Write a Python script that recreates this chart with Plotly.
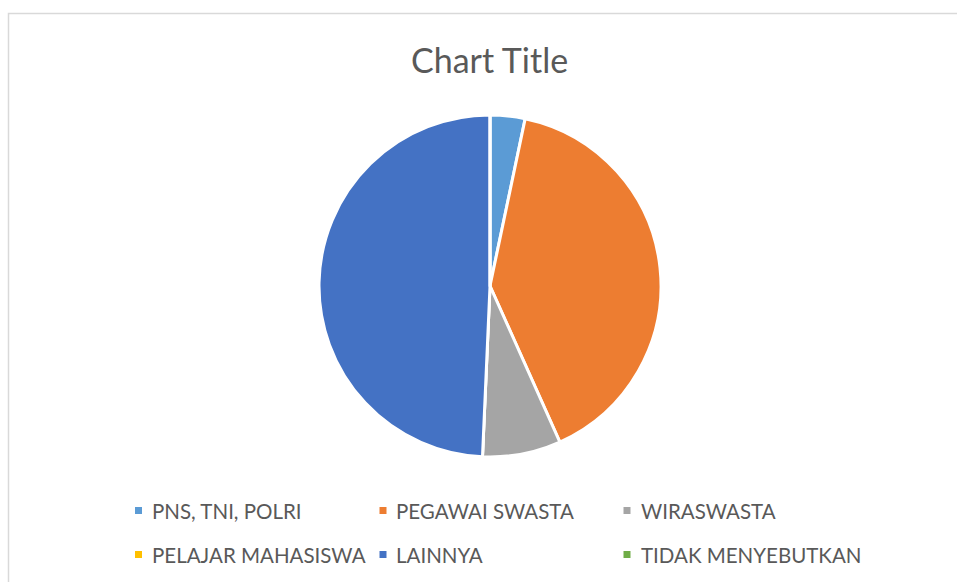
import plotly.graph_objects as go

labels = ["PNS, TNI, POLRI", "PEGAWAI SWASTA", "WIRASWASTA",
          "PELAJAR MAHASISWA", "LAINNYA", "TIDAK MENYEBUTKAN"]
values = [3.3, 40.0, 7.4, 0.0, 49.3, 0.0]
colors = ["#5B9BD5", "#ED7D31", "#A5A5A5", "#FFC000", "#4472C4", "#70AD47"]

W, H = 957, 582
fig = go.Figure()
fig.add_trace(go.Pie(
    labels=labels, values=values, sort=False, direction="clockwise", rotation=0,
    marker=dict(colors=colors, line=dict(color="white", width=3)),
    textinfo="none", hoverinfo="label+value", showlegend=False,
    domain=dict(x=[(490 - 171) / W, (490 + 171) / W], y=[1 - 457 / H, 1 - 115 / H]),
))

# manual legend (3 columns x 2 rows)
col_sq = [138.5, 383, 627]
col_tx = [150, 394, 639]
row_y = [510.5, 554.5]
shapes = [dict(type="rect", xref="paper", yref="paper", x0=8.5 / W, x1=1.05,
               y0=-0.05, y1=1 - 13.5 / H, line=dict(color="#D9D9D9", width=1.5),
               fillcolor="rgba(0,0,0,0)")]
annotations = []
for i, (lab, c) in enumerate(zip(labels, colors)):
    cx = col_sq[i % 3]
    cy = row_y[i // 3]
    shapes.append(dict(type="rect", xref="paper", yref="paper",
                       x0=(cx - 3.5) / W, x1=(cx + 3.5) / W,
                       y0=1 - (cy + 3.5) / H, y1=1 - (cy - 3.5) / H,
                       fillcolor=c, line=dict(width=0)))
    annotations.append(dict(text=lab, x=col_tx[i % 3] / W, y=1 - cy / H, xref="paper", yref="paper",
                            xanchor="left", yanchor="middle", showarrow=False,
                            font=dict(family="Lato", size=20.5, color="#595959")))

annotations.append(dict(text="Chart Title", x=490 / W, y=1 - 60 / H, xref="paper", yref="paper",
                        xanchor="center", yanchor="middle", showarrow=False,
                        font=dict(family="Lato", size=34, color="#595959")))

fig.update_layout(width=W, height=H, margin=dict(l=0, r=0, t=0, b=0),
                  paper_bgcolor="white", plot_bgcolor="white",
                  shapes=shapes, annotations=annotations)
fig.write_html("out.html", config={"displayModeBar": False},
               post_script="document.body.style.margin='0';document.body.style.overflow='hidden';")
